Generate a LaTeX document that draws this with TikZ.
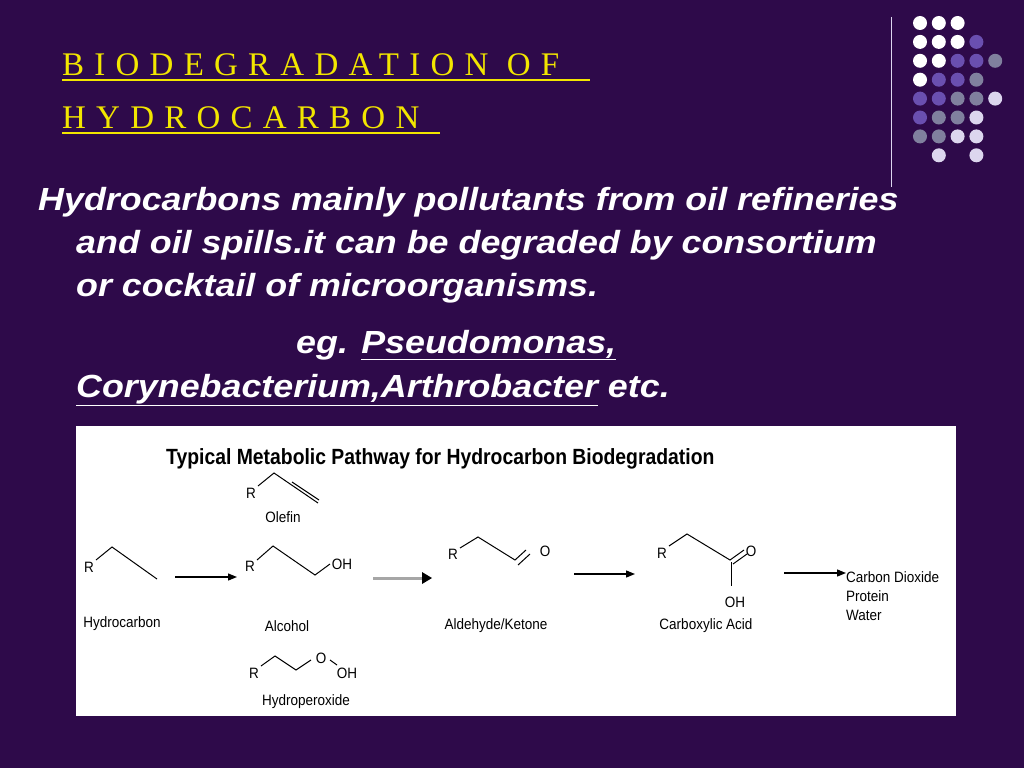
\documentclass[tikz,border=0pt]{standalone}
\usepackage{fontspec}
\setmainfont{Liberation Sans}
\newfontfamily\titlefont{Liberation Serif}
\usetikzlibrary{arrows.meta}
\definecolor{bg}{HTML}{2E0A4A}
\definecolor{ttl}{HTML}{F2E600}
\definecolor{dW}{HTML}{FFFFFF}
\definecolor{dP}{HTML}{6A4FB0}
\definecolor{dG}{HTML}{80809E}
\definecolor{dL}{HTML}{DCD6EE}
\tikzset{
 body/.style={anchor=base west,text=white,font=\fontsize{32}{35}\selectfont\bfseries\itshape,inner sep=0,xscale=1.12},
 ttlstyle/.style={anchor=base west,text=ttl,inner sep=0,font=\titlefont\fontsize{33}{36}\selectfont\addfontfeature{LetterSpace=31}},
 chem/.style={font=\fontsize{15}{17}\selectfont,inner sep=1pt,text=black,xscale=0.9},
 bond/.style={line width=1pt,black},
 rxn/.style={line width=1.3pt,-{Triangle[length=9pt,width=7pt]}}
}
\begin{document}
\begin{tikzpicture}[x=1pt,y=-1pt]
\fill[bg] (0,0) rectangle (1024,768);
\useasboundingbox (0,0) rectangle (1024,768);
% dots
\draw[dL,line width=1pt] (891,17) -- (891,187);
\foreach \r/\row in {0/{W,W,W,N,N},1/{W,W,W,P,N},2/{W,W,P,P,G},3/{W,P,P,G,N},4/{P,P,G,G,L},5/{P,G,G,L,N},6/{G,G,L,L,N},7/{N,L,N,L,N}}{
 \foreach \c [count=\i from 0] in \row {
  \if N\c\else \fill[d\c] (920+18.8*\i,23+18.9*\r) circle (7);\fi
 }}
% title
\node[ttlstyle] (t1) at (62,75) {BIODEGRADATION OF};
\node[ttlstyle] (t2) at (62,128) {HYDROCARBON};
\draw[ttl,line width=1.2pt] (62,80) -- (590,80);
\draw[ttl,line width=1.2pt] (62,133) -- (440,133);
% body
\node[body] (b1) at (38,210) {Hydrocarbons mainly pollutants from oil refineries};
\node[body] (b2) at (76,253) {and oil spills.it can be degraded by consortium};
\node[body] (b3) at (76,296) {or cocktail of microorganisms.};
\node[body] (b4) at (296,353) {eg. \underline{Pseudomonas,}};
\node[body] (b5) at (76,397) {\underline{Corynebacterium,Arthrobacter} etc.};
% image
\fill[white] (76,426) rectangle (956,716);
\node[anchor=base west,inner sep=0,font=\fontsize{22}{24}\selectfont\bfseries,xscale=0.88] (hd) at (166,464) {Typical Metabolic Pathway for Hydrocarbon Biodegradation};
% hydrocarbon
\node[chem] (r1) at (89,567) {R};
\draw[bond] (96,560) -- (112,547) -- (157,579);
\node[chem] (l1) at (122,624) {Hydrocarbon};
\draw[rxn] (175,577) -- (237,577);
% alcohol
\node[chem] (r2) at (250,566) {R};
\draw[bond] (257,560) -- (273,546) -- (315,575) -- (330,564);
\node[chem] (oh2) at (342,564) {OH};
\node[chem] (l2) at (287,626) {Alcohol};
% olefin
\node[chem] (r3) at (251,493) {R};
\draw[bond] (258,486) -- (274,473) -- (318,503);
\draw[bond] (292,482) -- (319,500);
\node[chem] (l3) at (283,517) {Olefin};
% hydroperoxide
\node[chem] (r4) at (254,673) {R};
\draw[bond] (261,666) -- (275,656) -- (296,670) -- (311,660);
\node[chem] (o4) at (321,658) {O};
\draw[bond] (330,660) -- (337,665);
\node[chem] (oh4) at (347,673) {OH};
\node[chem] (l4) at (306,702) {Hydroperoxide};
% arrow grey
\draw[gray!70,line width=3pt] (373,578) -- (424,578);
\fill[black] (422,572) -- (432,578) -- (422,584) -- cycle;
% aldehyde
\node[chem] (r5) at (453,554) {R};
\draw[bond] (460,548) -- (478,537) -- (515,560) -- (526,550);
\draw[bond] (518,565) -- (530,554);
\node[chem] (o5) at (545,551) {O};
\node[chem] (l5) at (496,626) {Aldehyde/Ketone};
\draw[rxn] (574,574) -- (635,574);
% carboxylic acid
\node[chem] (r6) at (662,553) {R};
\draw[bond] (669,546) -- (687,534) -- (730,560) -- (744,550);
\draw[bond] (733,564) -- (747,554);
\draw[bond] (731,562) -- (731,586);
\node[chem] (o6) at (751,551) {O};
\node[chem] (oh6) at (735,602) {OH};
\node[chem] (l6) at (706,626) {Carboxylic Acid};
\draw[rxn] (784,573) -- (846,573);
\node[chem,anchor=west,align=left,font=\fontsize{15}{19}\selectfont] (p) at (845,596) {Carbon Dioxide\\Protein\\Water};
\end{tikzpicture}
\end{document}
